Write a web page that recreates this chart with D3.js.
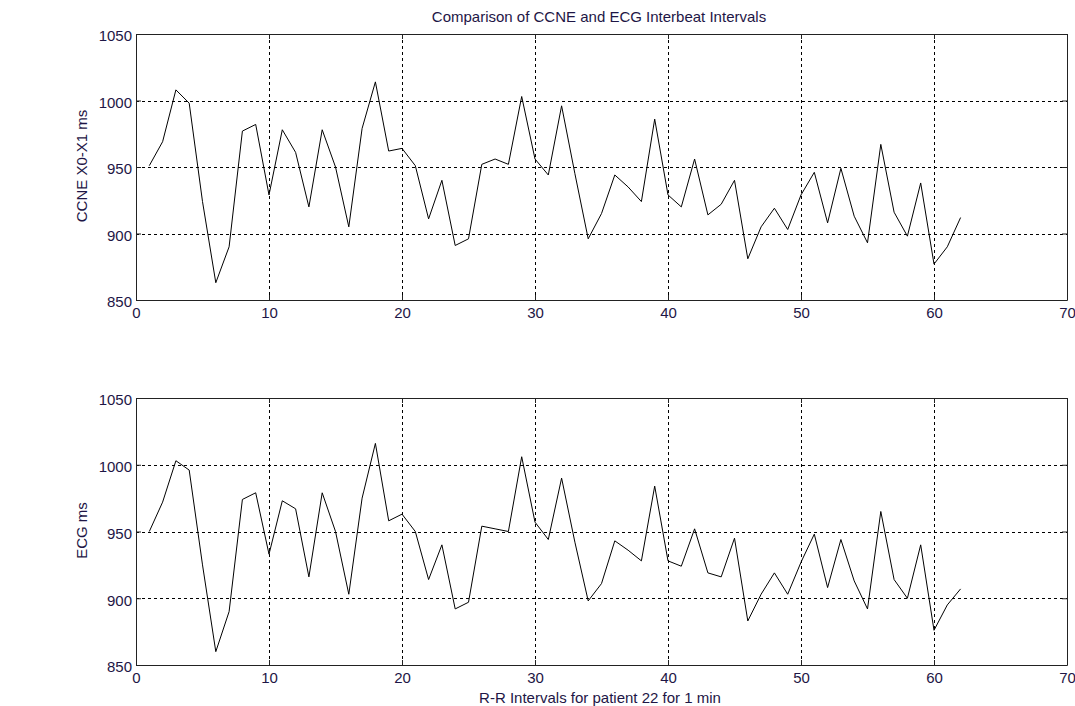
<!DOCTYPE html>
<html>
<head>
<meta charset="utf-8">
<script src="https://cdn.jsdelivr.net/npm/d3@7"></script>
<style>
  body { margin: 0; background: #fff; }
  text { font-family: "Liberation Sans", Arial, sans-serif; font-size: 15px; fill: #1e1646; }
</style>
</head>
<body>
<div id="container"></div>
<script>
// beat index 1..62
var beats = d3.range(1, 63)

// CCNE X0-X1 interbeat intervals (ms)
var ccne = [951, 969, 1008, 998, 924, 863, 890, 977, 982, 929,
  978, 961, 920, 978, 950, 905, 979, 1014, 962, 964,
  951, 911, 940, 891, 896, 952, 956, 952, 1003, 956,
  944, 996, 945, 896, 915, 944, 935, 924, 986, 929,
  920, 956, 914, 922, 940, 881, 905, 919, 903, 929,
  946, 908, 949, 913, 893, 967, 916, 898, 938, 877,
  890, 912]

// ECG interbeat intervals (ms)
var ecg = [950, 972, 1003, 996, 925, 860, 890, 974, 979, 933,
  973, 967, 916, 979, 950, 903, 975, 1016, 958, 963,
  950, 914, 940, 892, 897, 954, 952, 950, 1006, 957,
  944, 990, 942, 898, 911, 943, 936, 928, 984, 928,
  924, 952, 919, 916, 945, 883, 903, 919, 903, 927,
  948, 908, 944, 913, 892, 965, 914, 900, 940, 876,
  895, 907]

var xTicks = [0, 10, 20, 30, 40, 50, 60, 70]
var yTicks = [850, 900, 950, 1000, 1050]

var width = 1075
var height = 706
var left = 136
var right = 1067

var svg = d3.select('#container').append('svg')
  .attr('width', width)
  .attr('height', height)

var x = d3.scaleLinear().domain([0, 70]).range([left, right])

function drawPanel (top, bottom, values, ylabel) {
  var y = d3.scaleLinear().domain([850, 1050]).range([bottom, top])
  var g = svg.append('g')

  // dotted grid
  g.append('g').selectAll('line')
    .data(xTicks.slice(1, -1))
    .enter().append('line')
    .attr('x1', function (d) { return Math.round(x(d)) + 0.5 })
    .attr('x2', function (d) { return Math.round(x(d)) + 0.5 })
    .attr('y1', top).attr('y2', bottom)
    .style('stroke', '#000').style('stroke-dasharray', '3,3')
  g.append('g').selectAll('line')
    .data(yTicks.slice(1, -1))
    .enter().append('line')
    .attr('y1', function (d) { return Math.round(y(d)) + 0.5 })
    .attr('y2', function (d) { return Math.round(y(d)) + 0.5 })
    .attr('x1', left).attr('x2', right)
    .style('stroke', '#000').style('stroke-dasharray', '3,3')

  // axes, ticks pointing inward on all four sides
  var axB = d3.axisBottom(x).tickValues(xTicks).tickSizeInner(-5).tickSizeOuter(0).tickPadding(7).tickFormat(d3.format('d'))
  var axT = d3.axisTop(x).tickValues(xTicks).tickSizeInner(-5).tickSizeOuter(0).tickFormat('')
  var axL = d3.axisLeft(y).tickValues(yTicks).tickSizeInner(-5).tickSizeOuter(0).tickPadding(4).tickFormat(d3.format('d'))
  var axR = d3.axisRight(y).tickValues(yTicks).tickSizeInner(-5).tickSizeOuter(0).tickFormat('')

  g.append('g').attr('transform', 'translate(0,' + bottom + ')').call(axB)
  g.append('g').attr('transform', 'translate(0,' + top + ')').call(axT)
  var gl = g.append('g').attr('transform', 'translate(' + left + ',0)').call(axL)
  g.append('g').attr('transform', 'translate(' + right + ',0)').call(axR)
  gl.selectAll('.tick text').attr('dy', '0.45em')
  g.selectAll('.domain, .tick line').style('stroke', '#222')
  g.selectAll('.tick text').style('font-size', '15px').style('font-family', '"Liberation Sans", Arial, sans-serif').style('fill', '#1e1646')

  var line = d3.line()
    .x(function (d, i) { return x(beats[i]) })
    .y(function (d) { return y(d) })

  g.append('path')
    .datum(values)
    .attr('d', line)
    .style('fill', 'none')
    .style('stroke', '#000')
    .style('stroke-width', 1)

  g.append('text')
    .attr('transform', 'translate(87,' + ((top + bottom) / 2 - 1) + ') rotate(-90)')
    .attr('text-anchor', 'middle')
    .text(ylabel)
}

drawPanel(34, 300, ccne, 'CCNE X0-X1 ms')
drawPanel(398, 665, ecg, 'ECG ms')

svg.append('text')
  .attr('x', 599)
  .attr('y', 22)
  .attr('text-anchor', 'middle')
  .text('Comparison of CCNE and ECG Interbeat Intervals')

svg.append('text')
  .attr('x', 600)
  .attr('y', 703)
  .attr('text-anchor', 'middle')
  .text('R-R Intervals for patient 22 for 1 min')
</script>
</body>
</html>
